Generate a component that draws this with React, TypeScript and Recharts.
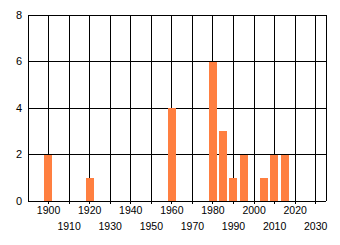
import { BarChart, Bar, XAxis, YAxis, CartesianGrid } from "recharts"

const years = [1900, 1920, 1960, 1980, 1985, 1990, 1995, 2005, 2010, 2015]
const counts = [2, 1, 4, 6, 3, 1, 2, 1, 2, 2]
const xTicks = [1900, 1910, 1920, 1930, 1940, 1950, 1960, 1970, 1980, 1990, 2000, 2010, 2020, 2030]
const yTicks = [0, 2, 4, 6, 8]

const data = years.map((year, i) => ({ year, count: counts[i] }))

const FONT = "'Liberation Sans', Arial, sans-serif"

// labels alternate between two rows so they don't collide
function YearTick({ x, y, payload }: any) {
  const odd = Math.round((payload.value - xTicks[0]) / 10) % 2 === 1
  return (
    <text
      x={x}
      y={y + 8 + (odd ? 15.5 : 0)}
      textAnchor="middle"
      fill="#000"
      fontSize={10.5}
      fontFamily={FONT}
      style={{ shapeRendering: "auto" }}
    >
      {payload.value}
    </text>
  )
}

export default function App() {
  return (
    <div style={{ position: "absolute", left: 0, top: 0, width: 340, height: 245, background: "#fff" }}>
      <BarChart
        width={340}
        height={245}
        data={data}
        margin={{ top: 15, right: 14, bottom: 0, left: 0 }}
        style={{ shapeRendering: "crispEdges" }}
      >
        <CartesianGrid stroke="#000" strokeOpacity={1} />
        <XAxis
          dataKey="year"
          type="number"
          domain={[1890, 2035]}
          ticks={xTicks}
          interval={0}
          allowDataOverflow
          height={44}
          tickSize={3}
          tickMargin={2}
          stroke="#000"
          tickLine={{ stroke: "#000" }}
          axisLine={{ stroke: "#000" }}
          tick={<YearTick />}
        />
        <YAxis
          type="number"
          domain={[0, 8]}
          ticks={yTicks}
          width={28}
          tickSize={0}
          tickMargin={6}
          tickLine={false}
          axisLine={{ stroke: "#000" }}
          tick={{ fill: "#000", fontSize: 11, fontFamily: FONT }}
        />
        <Bar dataKey="count" fill="#FF7F40" barSize={8} isAnimationActive={false} />
      </BarChart>
    </div>
  )
}
